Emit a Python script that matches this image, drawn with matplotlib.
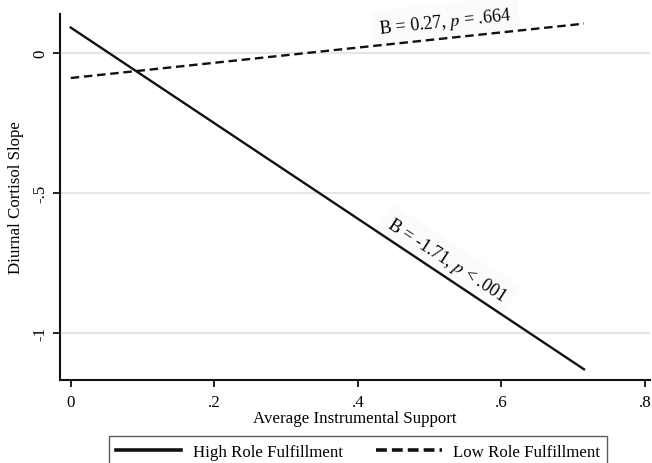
import matplotlib.pyplot as plt
import numpy as np

# Data
support = [0.0, 0.715]
high_role = [0.09, -1.13]
low_role = [-0.09, 0.104]

x_ticks = [0, 0.2, 0.4, 0.6, 0.8]
x_tick_labels = ["0", ".2", ".4", ".6", ".8"]
y_ticks = [0, -0.5, -1]
y_tick_labels = ["0", "-.5", "-1"]

plt.rcParams['font.family'] = ['Liberation Serif', 'DejaVu Serif']
fs = 12.2

fig = plt.figure(figsize=(6.52, 4.64), dpi=100)
ax = fig.add_axes([0.092, 0.179, 0.905, 0.789])

# light horizontal grid
for yv in y_ticks:
    ax.axhline(yv, color='#e6e6e6', linewidth=1.6, zorder=0)

ax.plot(support, high_role, color='#111111', linewidth=1.7, linestyle='-',
        label='High Role Fulfillment', zorder=3)
ax.plot(support, low_role, color='#111111', linewidth=1.7, linestyle=(0, (3.6, 2.0)),
        label='Low Role Fulfillment', zorder=3)

ax.set_xlim(-0.015, 0.807)
ax.set_ylim(-1.168, 0.139)

ax.set_xticks(x_ticks)
ax.set_xticklabels(x_tick_labels, fontsize=fs)
ax.set_yticks(y_ticks)
ax.set_yticklabels(y_tick_labels, fontsize=fs, rotation=90, va='center')

for side in ['top', 'right']:
    ax.spines[side].set_visible(False)
for side in ['left', 'bottom']:
    ax.spines[side].set_linewidth(1.5)
    ax.spines[side].set_color('#111111')
ax.tick_params(axis='both', direction='out', length=5, width=1.3, color='#111111')
ax.tick_params(axis='x', pad=5)

ax.set_xlabel("Average Instrumental Support", fontsize=fs, labelpad=0)
ax.set_ylabel("Diurnal Cortisol Slope", fontsize=fs, labelpad=6)

# annotations along the lines (faint box drawn under the lines)
box = dict(boxstyle='square,pad=0.4', facecolor='#fbfbfb', edgecolor='none')
ax.text(0.522, 0.113, "B = 0.27, $p$ = .664", rotation=6, fontsize=13,
        ha='center', va='center', rotation_mode='anchor', bbox=box,
        math_fontfamily='stix', zorder=1)
ax.text(0.524, -0.74, "B = -1.71, $p$ < .001", rotation=-33, fontsize=13,
        ha='center', va='center', rotation_mode='anchor', bbox=box,
        math_fontfamily='stix', zorder=1)

leg = fig.legend(loc='upper center', bbox_to_anchor=(0.549, 1 - 437 / 464), ncol=2,
                 frameon=True, fancybox=False, edgecolor='#333333', fontsize=fs,
                 handlelength=3.85, handletextpad=0.65, columnspacing=2.0,
                 borderpad=0.45, borderaxespad=0)
leg.get_frame().set_linewidth(1.0)
for h in leg.get_lines():
    h.set_linewidth(2.6)
leg.get_lines()[1].set_dashes([3.0, 1.4])

fig.savefig('out.png', dpi=100)
